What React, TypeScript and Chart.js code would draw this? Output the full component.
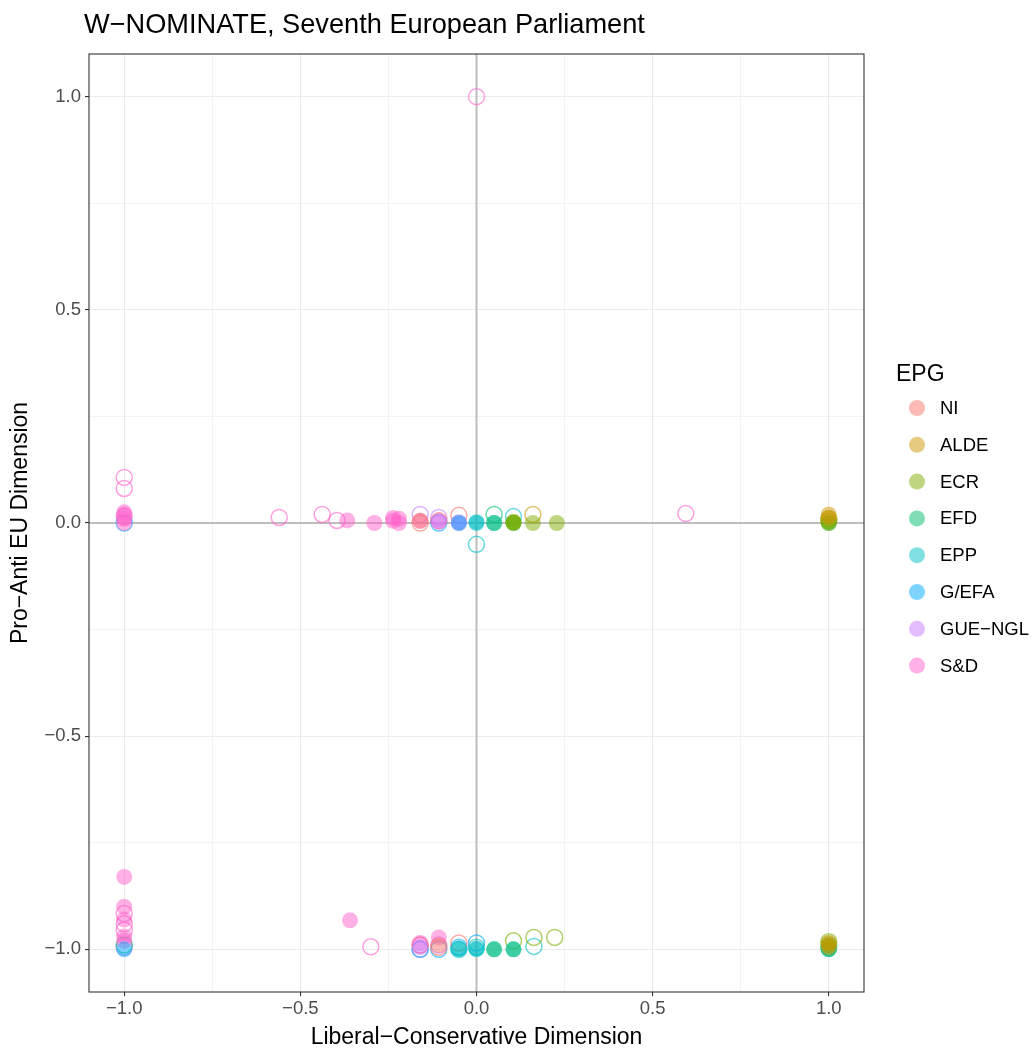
import React, { useEffect, useRef } from "react";
import { Chart, registerables } from "chart.js";
Chart.register(...registerables);

const TITLE = "W\u2212NOMINATE, Seventh European Parliament";
const X_TITLE = "Liberal\u2212Conservative Dimension";
const Y_TITLE = "Pro\u2212Anti EU Dimension";
const LEGEND_TITLE = "EPG";

const PARTIES = ["NI", "ALDE", "ECR", "EFD", "EPP", "G/EFA", "GUE\u2212NGL", "S&D"];
const COLORS = ["#F8766D", "#CD9600", "#7CAE00", "#00BE67", "#00BFC4", "#00A9FF", "#C77CFF", "#FF61CC"];

// [x, y] pairs; "SOLID" = filled circles, "OPEN" = hollow circles
const NI_SOLID = [[-0.16, 0.005], [-0.107, -0.99]];
const NI_OPEN = [[-0.16, 0.0], [-0.05, 0.018], [-0.107, 0.005], [-0.16, -0.99], [-0.05, -0.985], [-0.107, -0.995]];

const ALDE_SOLID = [[1, 0.02], [1, 0.012], [1, -0.985], [1, -0.995]];
const ALDE_OPEN = [[0.16, 0.02], [1, 0.005]];

const ECR_SOLID = [[0.105, 0.0], [0.105, 0.003], [0.105, 0.001], [0.16, 0.0], [0.228, 0.0], [1, 0.005], [1, 0.0], [1, -0.99], [1, -0.985]];
const ECR_OPEN = [[0.105, -0.98], [0.163, -0.972], [0.222, -0.972], [1, -0.982], [1, 0.01]];

const EFD_SOLID = [[0.05, 0.0], [0.105, 0.0], [0.105, -1], [1, -1], [1, 0.0], [0.05, -1]];
const EFD_OPEN = [[0.05, 0.02], [1, -0.995], [-1, -0.99]];

const EPP_SOLID = [[0, 0], [0, 0.002], [0.05, 0], [-0.05, -1], [0, -1], [0.05, -1], [0.105, -1], [1, -1], [-0.05, -0.998], [0, -0.998]];
const EPP_OPEN = [[0, -0.05], [0.105, 0.015], [0.163, -0.993], [-0.05, -1], [0, -0.995]];

const GEFA_SOLID = [[-0.05, 0], [-1, -1]];
const GEFA_OPEN = [[-0.107, 0], [-0.16, -1], [-0.107, -1], [0, -0.985], [-1, 0], [-0.05, -0.995]];

const GUE_SOLID = [[-0.05, 0.0], [-0.05, 0.002], [-0.16, -0.995], [-0.107, 0.003]];
const GUE_OPEN = [[-0.16, 0.02], [-0.107, 0.013], [-0.16, -1], [-0.107, -0.99], [-1, -0.995]];

const SD_SOLID = [
  [-1, 0], [-1, 0.01], [-1, 0.02], [-1, 0.025], [-1, -0.83], [-1, -0.9], [-1, -0.93], [-1, -0.97], [-1, -0.98],
  [-0.367, 0.006], [-0.29, 0.0], [-0.237, 0.005], [-0.22, 0.01], [-0.22, 0.0], [-0.16, 0.005], [-0.107, 0.005],
  [-0.359, -0.932], [-0.107, -0.972], [-0.16, -0.985], [-0.237, 0.012],
];
const SD_OPEN = [
  [0, 1.0], [-1, 0.107], [-1, 0.081], [-1, 0.015], [-0.56, 0.013], [-0.438, 0.02], [-0.396, 0.006], [0.594, 0.022],
  [-1, -0.916], [-1, -0.955], [-1, -0.94], [-0.3, -0.994], [-0.16, -0.99],
];

const SOLID = [NI_SOLID, ALDE_SOLID, ECR_SOLID, EFD_SOLID, EPP_SOLID, GEFA_SOLID, GUE_SOLID, SD_SOLID];
const OPEN = [NI_OPEN, ALDE_OPEN, ECR_OPEN, EFD_OPEN, EPP_OPEN, GEFA_OPEN, GUE_OPEN, SD_OPEN];

const AXIS_MIN = -1.1;
const AXIS_MAX = 1.1;
const TICK_STEP = 0.25;

const FONT = "'Liberation Sans', Arial, Helvetica, sans-serif";

function alpha(hex: string, a: number) {
  const r = parseInt(hex.slice(1, 3), 16);
  const g = parseInt(hex.slice(3, 5), 16);
  const b = parseInt(hex.slice(5, 7), 16);
  return `rgba(${r},${g},${b},${a})`;
}

const isMajor = (v: number) => Math.abs(v * 2 - Math.round(v * 2)) < 1e-6;

const decorPlugin = {
  id: "decor",
  beforeDatasetsDraw(chart: any) {
    const { ctx, chartArea: a, scales } = chart;
    const x0 = scales.x.getPixelForValue(0);
    const y0 = scales.y.getPixelForValue(0);
    ctx.save();
    ctx.beginPath();
    ctx.rect(a.left, a.top, a.right - a.left, a.bottom - a.top);
    ctx.clip();
    ctx.strokeStyle = "#bebebe";
    ctx.lineWidth = 2;
    ctx.beginPath();
    ctx.moveTo(x0, a.top);
    ctx.lineTo(x0, a.bottom);
    ctx.moveTo(a.left, y0);
    ctx.lineTo(a.right, y0);
    ctx.stroke();
    ctx.restore();
  },
  afterDraw(chart: any) {
    const { ctx, chartArea: a } = chart;
    ctx.save();
    ctx.strokeStyle = "#333333";
    ctx.lineWidth = 1.1;
    ctx.strokeRect(a.left, a.top, a.right - a.left, a.bottom - a.top);

    ctx.fillStyle = "#000000";
    ctx.textBaseline = "middle";
    ctx.textAlign = "left";
    ctx.font = `27.2px ${FONT}`;
    ctx.fillText(TITLE, 84, 26);

    ctx.font = `23px ${FONT}`;
    ctx.fillText(LEGEND_TITLE, 896, 375);
    ctx.font = `18.5px ${FONT}`;
    PARTIES.forEach((p, i) => {
      const cy = 408 + i * 36.8;
      ctx.beginPath();
      ctx.arc(917, cy, 8, 0, Math.PI * 2);
      ctx.fillStyle = alpha(COLORS[i], 0.5);
      ctx.fill();
      ctx.fillStyle = "#000000";
      ctx.fillText(p, 940, cy + 1);
    });
    ctx.restore();
  },
};

function axisOptions(title: string, isY: boolean) {
  return {
    type: "linear",
    min: AXIS_MIN,
    max: AXIS_MAX,
    border: { display: false },
    grid: {
      color: "#ebebeb",
      lineWidth: (c: any) => (c.tick && isMajor(c.tick.value) ? 1.1 : 0.6),
      drawTicks: true,
      tickLength: 4,
      tickWidth: 1.1,
      tickColor: (c: any) => (c.tick && isMajor(c.tick.value) ? "#333333" : "rgba(0,0,0,0)"),
    },
    ticks: {
      stepSize: TICK_STEP,
      includeBounds: false,
      autoSkip: false,
      maxRotation: 0,
      color: "#4d4d4d",
      font: { family: FONT, size: 18.5 },
      padding: isY ? 4 : 2,
      callback: (v: any) => (isMajor(Number(v)) ? Number(v).toFixed(1).replace("-", "\u2212") : ""),
    },
    title: {
      display: true,
      text: title,
      color: "#000000",
      font: { family: FONT, size: 23 },
      padding: isY ? { top: 7, bottom: 0 } : { top: 0, bottom: -3 },
    },
    afterFit: (scale: any) => {
      if (isY) scale.width = 89;
      else scale.height = 56;
    },
  };
}

export default function App() {
  const canvasRef = useRef<HTMLCanvasElement | null>(null);

  useEffect(() => {
    if (!canvasRef.current) return;
    const datasets: any[] = [];
    PARTIES.forEach((p, i) => {
      datasets.push({
        label: p,
        data: SOLID[i].map(([x, y]) => ({ x, y })),
        pointRadius: 8,
        pointHoverRadius: 8,
        pointBackgroundColor: alpha(COLORS[i], 0.5),
        pointBorderWidth: 0,
        pointBorderColor: "rgba(0,0,0,0)",
      });
    });
    PARTIES.forEach((p, i) => {
      datasets.push({
        label: p + " (open)",
        data: OPEN[i].map(([x, y]) => ({ x, y })),
        pointRadius: 8,
        pointHoverRadius: 8,
        pointBackgroundColor: "rgba(0,0,0,0)",
        pointBorderWidth: 1.5,
        pointBorderColor: alpha(COLORS[i], 0.6),
      });
    });

    const chart = new Chart(canvasRef.current, {
      type: "scatter",
      data: { datasets },
      options: {
        animation: false,
        responsive: true,
        maintainAspectRatio: false,
        layout: { padding: { top: 54, right: 169, left: 0, bottom: 0 } },
        plugins: {
          legend: { display: false },
          tooltip: { enabled: false },
          title: { display: false },
        },
        scales: {
          x: axisOptions(X_TITLE, false) as any,
          y: axisOptions(Y_TITLE, true) as any,
        },
      },
      plugins: [decorPlugin],
    });
    return () => chart.destroy();
  }, []);

  return (
    <div style={{ position: "absolute", left: 0, top: 0, width: 1033, height: 1048, background: "#ffffff" }}>
      <canvas ref={canvasRef} />
    </div>
  );
}
